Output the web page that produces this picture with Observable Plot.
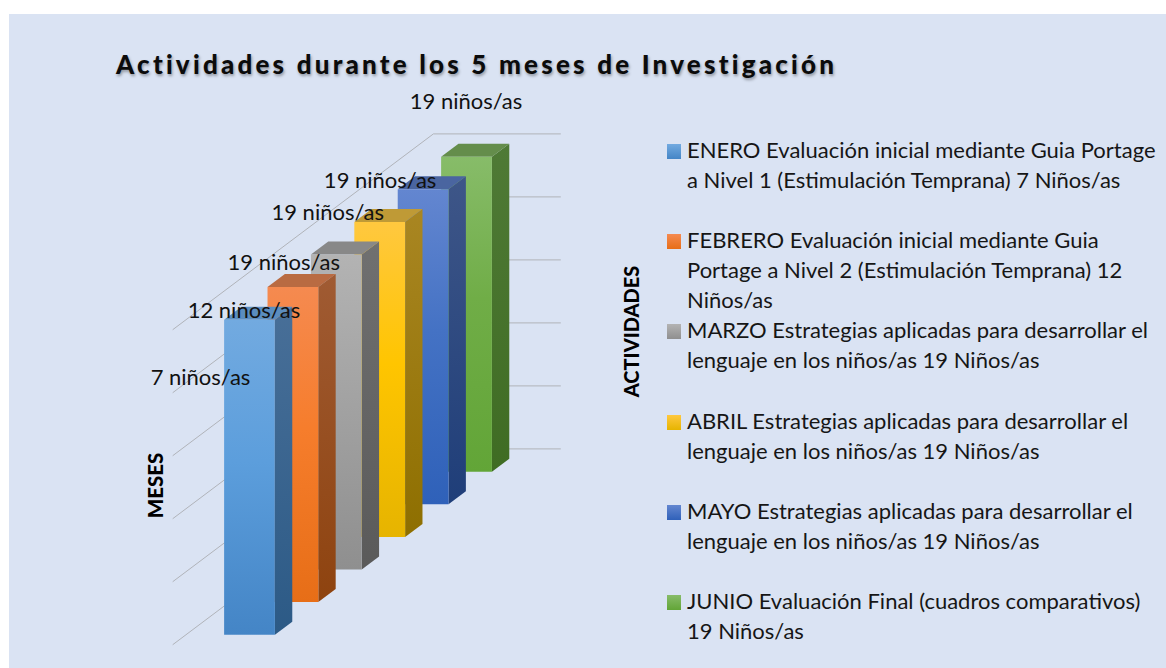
<!DOCTYPE html>
<html lang="es">
<head>
<meta charset="utf-8">
<script src="https://cdn.jsdelivr.net/npm/d3@7"></script>
<script src="https://cdn.jsdelivr.net/npm/@observablehq/plot@0.6"></script>
<style>
html,body{margin:0;padding:0;background:#fff;}
#page{position:relative;width:1166px;height:668px;overflow:hidden;font-family:Lato,"Open Sans",sans-serif;}
#panel{position:absolute;left:9px;top:14px;right:0;bottom:0;background:#dae3f3;}
#chart{position:absolute;left:0;top:0;}
#chart svg{background:transparent;display:block;}
#title{position:absolute;left:116px;top:47px;margin:0;font:900 26px/34px Lato,sans-serif;letter-spacing:3.2px;color:#0b0b0b;text-shadow:1px 2px 3px rgba(0,0,0,.35);white-space:nowrap;}
.item{position:absolute;left:667px;color:#161616;font:22px/30px Lato,sans-serif;white-space:pre;}
.item i{position:absolute;left:0;top:9px;width:14px;height:15px;}
.item span{display:block;margin-left:20px;}
</style>
</head>
<body>
<div id="page">
  <div id="panel"></div>
  <div id="chart"></div>
  <h1 id="title"></h1>
  <div id="legend"></div>
</div>
<script>
const titulo = "Actividades durante los 5 meses de Investigación";
const meses = ["ENERO","FEBRERO","MARZO","ABRIL","MAYO","JUNIO"];
const ninos = [7,12,19,19,19,19];
const alturas = [5,5,5,5,5,5];
const nivelesRejilla = [0,1,2,3,4,5];
const leyenda = [
  ["ENERO Evaluación inicial mediante Guia Portage","a Nivel 1 (Estimulación Temprana) 7 Niños/as"],
  ["FEBRERO Evaluación inicial mediante Guia","Portage a Nivel 2 (Estimulación Temprana) 12","Niños/as"],
  ["MARZO Estrategias aplicadas para desarrollar el","lenguaje en los niños/as 19 Niños/as"],
  ["ABRIL Estrategias aplicadas para desarrollar el","lenguaje en los niños/as 19 Niños/as"],
  ["MAYO Estrategias aplicadas para desarrollar el","lenguaje en los niños/as 19 Niños/as"],
  ["JUNIO Evaluación Final (cuadros comparativos)","19 Niños/as"]
];
const frenteArriba = ["#72aae0","#f58a50","#b3b3b3","#ffc83f","#6386d0","#87bc69"];
const frenteMedio  = ["#5c9edc","#f67d2c","#a3a3a3","#ffc500","#4472c4","#70ad47"];
const frenteAbajo  = ["#4485c6","#e76e17","#8f8f8f","#e6b400","#2f61b9","#62a537"];
const ladoArriba   = ["#486f98","#a05b33","#707070","#a98622","#3e5688","#4f7a36"];
const ladoAbajo    = ["#2c5a86","#8e430f","#5a5a5a","#8e6f00","#1f3e79","#3f6c23"];
const tapa         = ["#5b8dbf","#b96b42","#888888","#bf9a36","#4a65a0","#648d4b"];

// Oblique projection of the chart's 3D space: t along the width, s along the series depth, v up the value axis
const proj = (t, s, v) => ({x: 172.5 + 127 * t + 43.4 * s, y: 644 - 32.6 * s - 63 * v});
const [t0, t1] = [0.3, 0.7];
const [d0, d1] = [0.3, 0.7];

const rejilla = [];
for (const v of nivelesRejilla) {
  const a = proj(0,0,v), b = proj(0,6,v), c = proj(1,6,v);
  rejilla.push(Plot.line([a,b,c], {x:"x", y:"y", stroke:"#b0b3b9", strokeWidth:1}));
}

const barras = [];
for (let i = meses.length - 1; i >= 0; i--) {
  const h = alturas[i];
  const cara = (pts, fill) => Plot.line(pts, {x:"x", y:"y", fill, stroke:"none"});
  barras.push(
    cara([proj(t1,i+d0,0),proj(t1,i+d1,0),proj(t1,i+d1,h),proj(t1,i+d0,h)], `url(#lado${i})`),
    cara([proj(t0,i+d0,h),proj(t1,i+d0,h),proj(t1,i+d1,h),proj(t0,i+d1,h)], tapa[i]),
    cara([proj(t0,i+d0,0),proj(t1,i+d0,0),proj(t1,i+d0,h),proj(t0,i+d0,h)], `url(#frente${i})`)
  );
}

// Data labels were hand-placed around the bars in the original: shift from each bar's top centre
const corrimientoX = [-49,-49,-52.5,-52,-43,-0.5];
const corrimientoY = [58,24,8,-9,-8,-55];
const etiquetas = meses.map((m,i) => {
  const p = proj((t0+t1)/2, i+d0, alturas[i]);
  return {x: p.x + corrimientoX[i], y: p.y + corrimientoY[i], texto: `${ninos[i]} niños/as`};
});

const plot = Plot.plot({
  width:1166, height:668, margin:0,
  x:{domain:[0,1166], range:[0,1166], axis:null},
  y:{domain:[0,668], range:[0,668], axis:null},
  style:{background:"transparent"},
  marks:[
    ...rejilla,
    ...barras,
    Plot.text(etiquetas, {x:"x", y:"y", text:"texto", fontSize:22, fontFamily:"Lato, sans-serif", fill:"#111"}),
    Plot.text(["MESES"], {x:()=>156, y:()=>485, text:d=>d, rotate:-90, fontSize:20.5, fontWeight:900, fontFamily:"Lato, sans-serif", fill:"#000"}),
    Plot.text(["ACTIVIDADES"], {x:()=>632.5, y:()=>331, text:d=>d, rotate:-90, fontSize:20, fontWeight:900, fontFamily:"Lato, sans-serif", fill:"#000"})
  ]
});

const defs = d3.select(plot).append("defs");
const degradado = (id, stops) => {
  const g = defs.append("linearGradient").attr("id", id).attr("x1",0).attr("y1",0).attr("x2",0).attr("y2",1);
  stops.forEach(([o,c]) => g.append("stop").attr("offset",o).attr("stop-color",c));
};
meses.forEach((m,i) => {
  degradado(`frente${i}`, [[0,frenteArriba[i]],[0.45,frenteMedio[i]],[1,frenteAbajo[i]]]);
  degradado(`lado${i}`, [[0,ladoArriba[i]],[1,ladoAbajo[i]]]);
});
document.getElementById("chart").append(plot);
document.getElementById("title").textContent = titulo;

const tops = [135,225,315,406,496,586];
const caja = document.getElementById("legend");
leyenda.forEach((lineas,i) => {
  const d = document.createElement("div");
  d.className = "item";
  d.style.top = tops[i] + "px";
  const sw = document.createElement("i");
  sw.style.background = `linear-gradient(${frenteArriba[i]},${frenteAbajo[i]})`;
  d.append(sw);
  lineas.forEach(l => { const s = document.createElement("span"); s.textContent = l; d.append(s); });
  caja.append(d);
});
</script>
</body>
</html>
